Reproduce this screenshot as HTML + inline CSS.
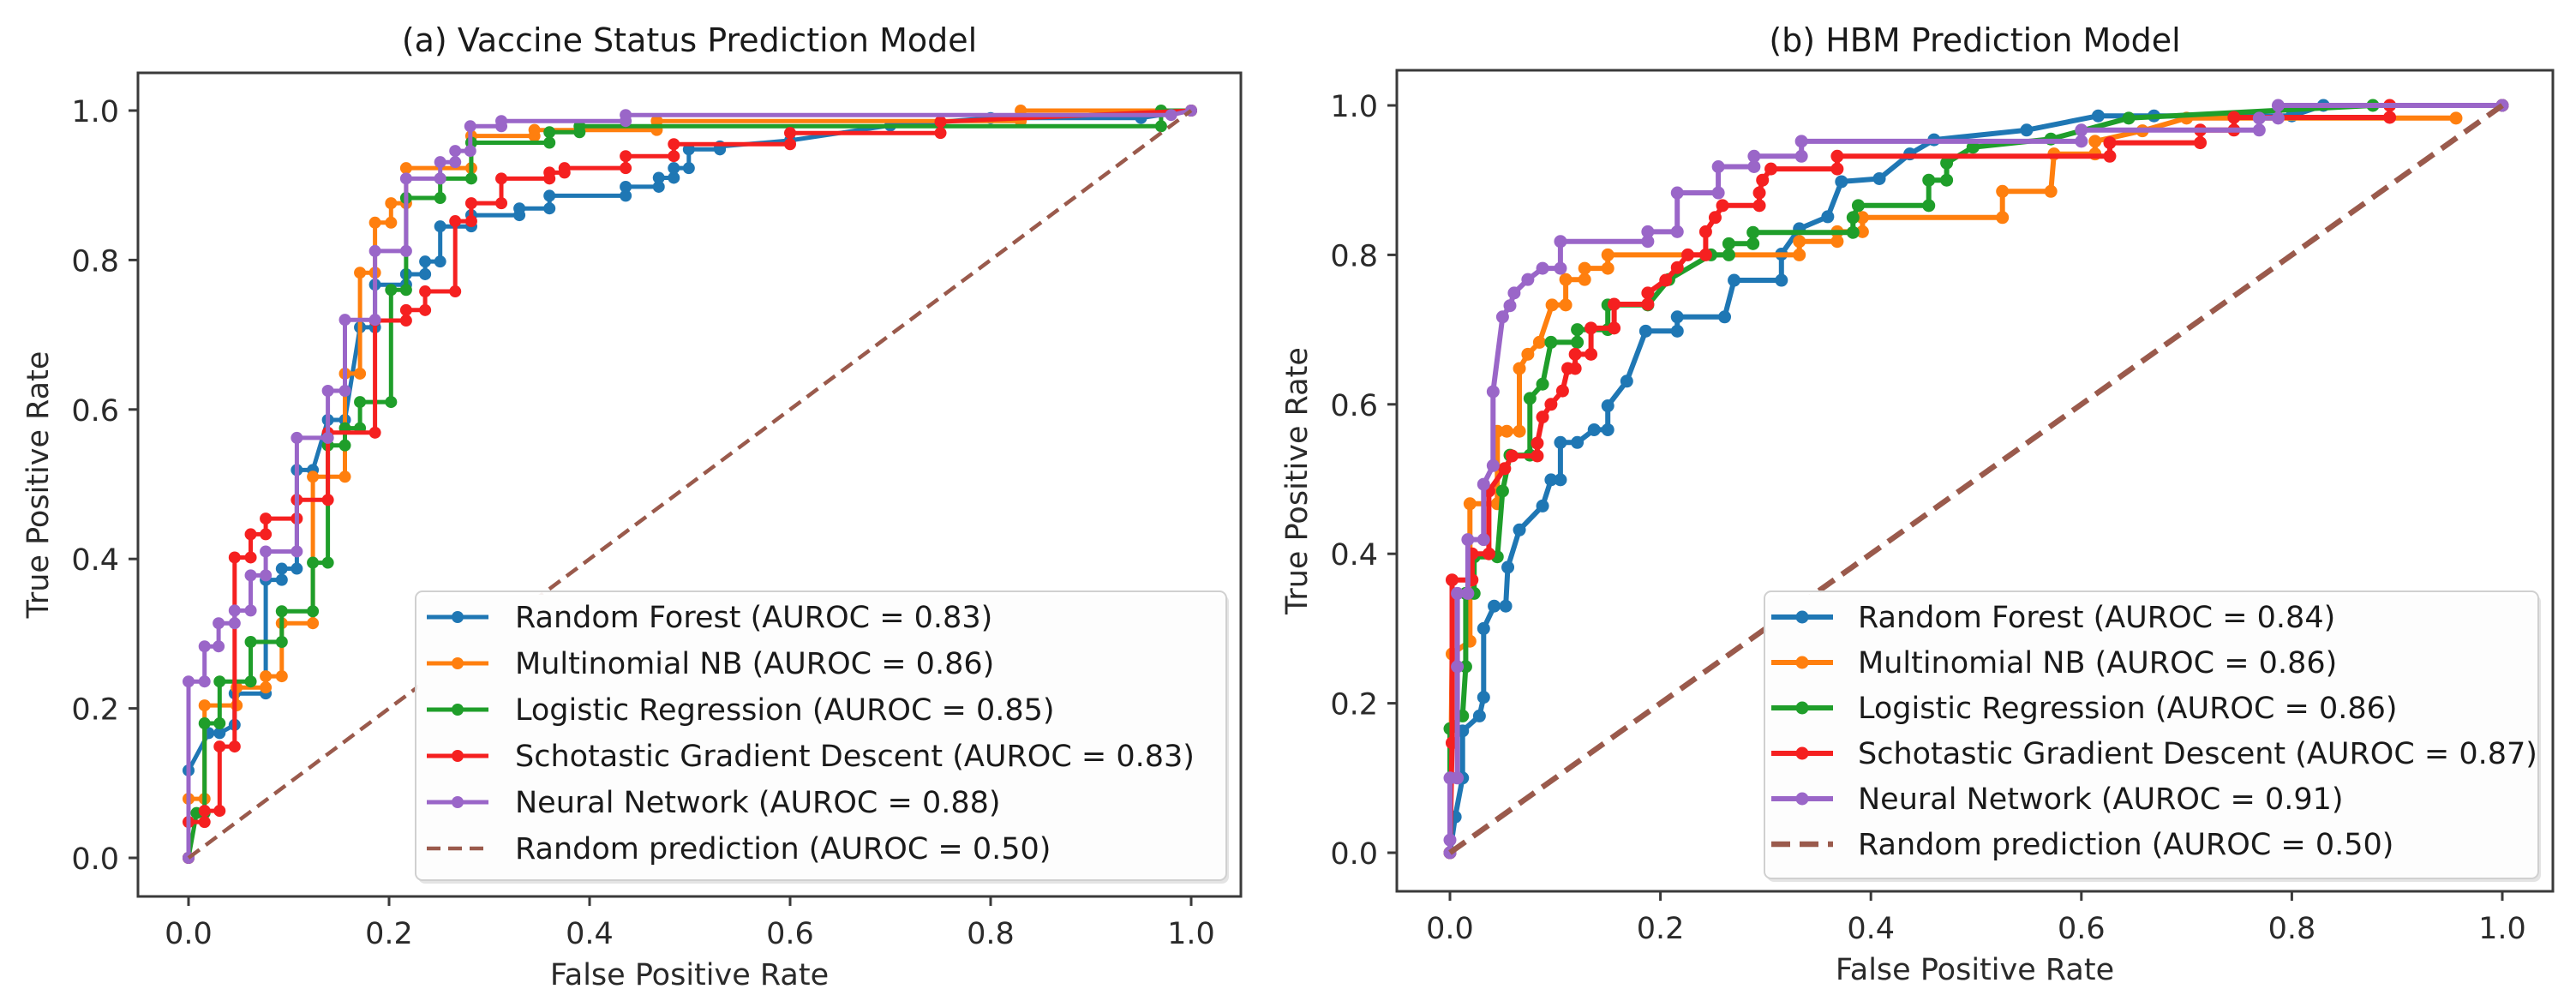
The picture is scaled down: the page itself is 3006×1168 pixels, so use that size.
<!DOCTYPE html>
<html><head><meta charset="utf-8">
<style>
html,body{margin:0;padding:0;background:#fff;}
svg{display:block;}
text{font-family:"DejaVu Sans","Liberation Sans",sans-serif;}
</style></head>
<body>
<svg id="fig" xmlns="http://www.w3.org/2000/svg" width="3006" height="1168" viewBox="0 0 3006 1168">
<rect x="0" y="0" width="3006" height="1168" fill="#fff"/>
</svg>
<script>
// ---------- Data: chart (a) Vaccine Status ----------
const legendLabelsA = ["Random Forest (AUROC = 0.83)","Multinomial NB (AUROC = 0.86)","Logistic Regression (AUROC = 0.85)","Schotastic Gradient Descent (AUROC = 0.83)","Neural Network (AUROC = 0.88)","Random prediction (AUROC = 0.50)"];
const legendLabelsB = ["Random Forest (AUROC = 0.84)","Multinomial NB (AUROC = 0.86)","Logistic Regression (AUROC = 0.86)","Schotastic Gradient Descent (AUROC = 0.87)","Neural Network (AUROC = 0.91)","Random prediction (AUROC = 0.50)"];
const tickValues = [0.0,0.2,0.4,0.6,0.8,1.0];
const tickLabels = ["0.0","0.2","0.4","0.6","0.8","1.0"];
const seriesColors = ["#1f77b4","#ff7f0e","#1f9e2a","#f52020","#9a66c8"];

const rfA_fpr = [0,0,0.02,0.031,0.046,0.046,0.077,0.077,0.093,0.093,0.108,0.108,0.124,0.139,0.156,0.171,0.186,0.186,0.217,0.217,0.236,0.236,0.251,0.251,0.282,0.282,0.33,0.33,0.36,0.36,0.436,0.436,0.469,0.469,0.484,0.484,0.499,0.499,0.53,0.53,0.6,0.7,0.8,0.95,1];
const rfA_tpr = [0,0.117,0.167,0.167,0.178,0.22,0.22,0.372,0.372,0.387,0.387,0.519,0.519,0.586,0.586,0.71,0.71,0.767,0.767,0.781,0.781,0.798,0.798,0.845,0.845,0.86,0.86,0.869,0.869,0.886,0.886,0.898,0.898,0.91,0.91,0.923,0.923,0.948,0.948,0.952,0.96,0.98,0.99,0.99,1];
const nbA_fpr = [0,0,0.016,0.016,0.048,0.048,0.077,0.077,0.093,0.093,0.124,0.124,0.156,0.156,0.171,0.171,0.186,0.186,0.202,0.202,0.217,0.217,0.282,0.282,0.345,0.345,0.467,0.467,0.83,0.83,1];
const nbA_tpr = [0,0.079,0.079,0.204,0.204,0.228,0.228,0.243,0.243,0.314,0.314,0.51,0.51,0.648,0.648,0.783,0.783,0.85,0.85,0.876,0.876,0.923,0.923,0.966,0.966,0.974,0.974,0.986,0.986,1,1];
const lrA_fpr = [0,0.008,0.016,0.016,0.031,0.031,0.062,0.062,0.093,0.093,0.124,0.124,0.139,0.139,0.156,0.156,0.171,0.171,0.202,0.202,0.217,0.217,0.251,0.251,0.282,0.282,0.36,0.36,0.39,0.39,0.97,0.97,1];
const lrA_tpr = [0,0.06,0.06,0.18,0.18,0.236,0.236,0.289,0.289,0.33,0.33,0.395,0.395,0.552,0.552,0.575,0.575,0.61,0.61,0.76,0.76,0.883,0.883,0.909,0.909,0.957,0.957,0.971,0.971,0.979,0.979,1,1];
const sgdA_fpr = [0,0,0.016,0.016,0.031,0.031,0.046,0.046,0.062,0.062,0.077,0.077,0.108,0.108,0.139,0.139,0.186,0.186,0.217,0.217,0.236,0.236,0.266,0.266,0.282,0.282,0.312,0.312,0.36,0.36,0.375,0.375,0.436,0.436,0.484,0.484,0.6,0.6,0.75,0.75,1];
const sgdA_tpr = [0,0.048,0.048,0.063,0.063,0.149,0.149,0.402,0.402,0.433,0.433,0.454,0.454,0.479,0.479,0.569,0.569,0.719,0.719,0.733,0.733,0.758,0.758,0.852,0.852,0.876,0.876,0.909,0.909,0.917,0.917,0.923,0.923,0.939,0.939,0.955,0.955,0.97,0.97,0.985,1];
const nnA_fpr = [0,0,0.016,0.016,0.03,0.03,0.046,0.046,0.062,0.062,0.077,0.077,0.108,0.108,0.139,0.139,0.156,0.156,0.186,0.186,0.217,0.217,0.251,0.251,0.266,0.266,0.281,0.281,0.312,0.312,0.436,0.436,0.98,1];
const nnA_tpr = [0,0.236,0.236,0.283,0.283,0.314,0.314,0.331,0.331,0.378,0.378,0.41,0.41,0.562,0.562,0.625,0.625,0.72,0.72,0.812,0.812,0.909,0.909,0.931,0.931,0.946,0.946,0.979,0.979,0.986,0.986,0.994,0.994,1];

// ---------- Data: chart (b) HBM ----------
const rfB_fpr = [0,0.005,0.012,0.012,0.028,0.032,0.032,0.042,0.053,0.055,0.066,0.088,0.096,0.105,0.105,0.121,0.137,0.15,0.15,0.168,0.186,0.216,0.216,0.261,0.27,0.315,0.315,0.332,0.359,0.372,0.408,0.437,0.46,0.548,0.616,0.669,0.8,0.83,1];
const rfB_tpr = [0,0.048,0.1,0.163,0.183,0.208,0.3,0.33,0.33,0.382,0.432,0.464,0.499,0.499,0.549,0.549,0.566,0.566,0.598,0.631,0.698,0.698,0.717,0.717,0.766,0.766,0.801,0.835,0.851,0.898,0.902,0.935,0.954,0.967,0.986,0.986,0.986,1,1];
const nbB_fpr = [0,0.002,0.019,0.019,0.045,0.045,0.054,0.066,0.066,0.074,0.085,0.097,0.11,0.11,0.128,0.128,0.15,0.15,0.332,0.332,0.368,0.368,0.392,0.392,0.525,0.525,0.571,0.574,0.613,0.613,0.658,0.7,0.956];
const nbB_tpr = [0,0.266,0.283,0.467,0.467,0.564,0.564,0.564,0.648,0.667,0.683,0.733,0.733,0.767,0.767,0.782,0.782,0.8,0.8,0.818,0.818,0.831,0.831,0.85,0.85,0.885,0.885,0.935,0.935,0.952,0.966,0.983,0.983];
const lrB_fpr = [0,0,0.012,0.015,0.015,0.023,0.023,0.045,0.05,0.057,0.076,0.076,0.088,0.096,0.121,0.121,0.15,0.15,0.188,0.208,0.248,0.265,0.265,0.288,0.288,0.383,0.383,0.388,0.455,0.455,0.472,0.472,0.497,0.571,0.645,0.877,1];
const lrB_tpr = [0,0.166,0.183,0.249,0.347,0.347,0.396,0.396,0.484,0.532,0.532,0.608,0.627,0.683,0.683,0.7,0.7,0.733,0.733,0.767,0.8,0.8,0.815,0.815,0.83,0.83,0.85,0.866,0.866,0.9,0.9,0.923,0.944,0.955,0.983,1,1];
const sgdB_fpr = [0,0.002,0.002,0.021,0.021,0.037,0.037,0.052,0.059,0.083,0.083,0.088,0.096,0.107,0.112,0.119,0.119,0.134,0.134,0.156,0.156,0.188,0.188,0.205,0.216,0.226,0.243,0.243,0.252,0.259,0.294,0.294,0.297,0.305,0.368,0.368,0.627,0.627,0.713,0.713,0.745,0.745,0.893,0.893,1];
const sgdB_tpr = [0,0.147,0.365,0.365,0.4,0.4,0.484,0.514,0.531,0.531,0.548,0.583,0.6,0.618,0.648,0.648,0.667,0.667,0.702,0.702,0.734,0.734,0.749,0.766,0.783,0.8,0.8,0.831,0.85,0.866,0.866,0.883,0.9,0.915,0.915,0.932,0.932,0.95,0.95,0.967,0.967,0.984,0.984,1,1];
const nnB_fpr = [0,0,0,0.007,0.007,0.007,0.017,0.017,0.032,0.032,0.041,0.041,0.05,0.057,0.061,0.074,0.088,0.105,0.105,0.188,0.188,0.216,0.216,0.255,0.255,0.289,0.289,0.334,0.334,0.6,0.6,0.769,0.769,0.787,0.787,1];
const nnB_tpr = [0,0.017,0.1,0.1,0.249,0.347,0.347,0.419,0.419,0.493,0.518,0.617,0.717,0.732,0.749,0.767,0.782,0.782,0.818,0.818,0.831,0.831,0.883,0.883,0.918,0.918,0.932,0.932,0.952,0.952,0.967,0.967,0.983,0.983,1,1];

const randFpr = [0,1];
const randTpr = [0,1];

const NS = "http://www.w3.org/2000/svg";
const fig = document.getElementById('fig');
function mk(tag, attrs, parent){
  const e = document.createElementNS(NS, tag);
  for (const k in attrs) e.setAttribute(k, attrs[k]);
  (parent||fig).appendChild(e);
  return e;
}

function drawChart(cfg){
  const g = mk('g', {});
  
  
  const sx = v => cfg.x0 + v*(cfg.x1 - cfg.x0);
  const sy = v => cfg.y0 - v*(cfg.y0 - cfg.y1);

  const t = mk('text', {x:(cfg.left+cfg.right)/2, y:cfg.titleY, 'font-size':38, 'text-anchor':'middle', fill:'#1a1a1a'}, g);
  t.textContent = cfg.title;
  
  

  const series = cfg.series;
  const sg = mk('g', {'clip-path':'url(#'+cfg.clip+')'}, g);
  series.forEach((s, i) => {
    const pts = s.fpr.map((f, j) => sx(f).toFixed(1)+','+sy(s.tpr[j]).toFixed(1)).join(' ');
    const pl = mk('polyline', {points:pts, fill:'none', stroke:seriesColors[i], 'stroke-width':cfg.lw, 'stroke-linejoin':'round'}, sg);
    
    
    s.fpr.forEach((f, j) => {
      const c = mk('circle', {cx:sx(f), cy:sy(s.tpr[j]), r:cfg.mr, fill:seriesColors[i]}, sg);
      
      
    });
  });
  const rp = randFpr.map((f, j) => sx(f)+','+sy(randTpr[j])).join(' ');
  const rl = mk('polyline', {points:rp, fill:'none', stroke:'#9a5a4c', 'stroke-width':cfg.dlw, 'stroke-dasharray':cfg.dash}, sg);
  
  

  const fr = mk('rect', {x:cfg.left, y:cfg.top, width:cfg.right-cfg.left, height:cfg.bottom-cfg.top, fill:'none', stroke:'#3a3a3a', 'stroke-width':3}, g);
  
  

  tickValues.forEach((v, i) => {
    const X = sx(v);
    mk('line', {x1:X, x2:X, y1:cfg.bottom, y2:cfg.bottom+11, stroke:'#3a3a3a', 'stroke-width':3}, g);
    const tx = mk('text', {x:X, y:cfg.bottom+55, 'font-size':35, 'text-anchor':'middle', fill:'#2a2a2a'}, g);
    tx.textContent = tickLabels[i];
    
    
    const Y = sy(v);
    mk('line', {x1:cfg.left-11, x2:cfg.left, y1:Y, y2:Y, stroke:'#3a3a3a', 'stroke-width':3}, g);
    const ty = mk('text', {x:cfg.left-22, y:Y+13, 'font-size':35, 'text-anchor':'end', fill:'#2a2a2a'}, g);
    ty.textContent = tickLabels[i];
    
    
  });

  const xl = mk('text', {x:(cfg.left+cfg.right)/2, y:cfg.bottom+103, 'font-size':35, 'text-anchor':'middle', fill:'#2a2a2a'}, g);
  xl.textContent = 'False Positive Rate';
  
  
  const yc = (cfg.top+cfg.bottom)/2;
  const yl = mk('text', {x:cfg.left-115, y:yc, 'font-size':35, 'text-anchor':'middle', fill:'#2a2a2a', transform:'rotate(-90 '+(cfg.left-115)+' '+yc+')', 'dominant-baseline':'middle'}, g);
  yl.textContent = 'True Positive Rate';
  
  

  const L = cfg.legend;
  const lg = mk('g', {}, g);
  
  
  mk('rect', {x:L.x+3, y:L.y+4, width:L.w, height:L.h, rx:8, fill:'#e4e4e4'}, lg);
  mk('rect', {x:L.x, y:L.y, width:L.w, height:L.h, rx:8, fill:'#fff', 'fill-opacity':0.92, stroke:'#d0d0d0', 'stroke-width':2}, lg);
  cfg.labels.forEach((lab, i) => {
    const ry = L.y + 30 + i*L.step;
    const ent = mk('g', {}, lg);
    
    
    if (i < 5) {
      mk('line', {x1:L.hx1, x2:L.hx2, y1:ry, y2:ry, stroke:seriesColors[i], 'stroke-width':cfg.lw}, ent);
      mk('circle', {cx:(L.hx1+L.hx2)/2, cy:ry, r:cfg.mr, fill:seriesColors[i]}, ent);
    } else {
      mk('line', {x1:L.hx1, x2:L.hx2, y1:ry, y2:ry, stroke:'#9a5a4c', 'stroke-width':cfg.dlw, 'stroke-dasharray':cfg.dash}, ent);
    }
    const tt = mk('text', {x:L.tx, y:ry+12, 'font-size':35, fill:'#1a1a1a'}, ent);
    tt.textContent = lab;
  });
}

const defs = mk('defs', {});
const c1 = mk('clipPath', {id:'clipA'}, defs); mk('rect', {x:161, y:85, width:1287, height:961}, c1);
const c2 = mk('clipPath', {id:'clipB'}, defs); mk('rect', {x:1630, y:82, width:1349, height:958}, c2);

drawChart({
  name:'chart-vaccine-status', title:'(a) Vaccine Status Prediction Model', clip:'clipA',
  left:161, right:1448, top:85, bottom:1046, titleY:60,
  x0:220, x1:1390, y0:1001, y1:129, lw:5, mr:7, dlw:4.5, dash:'16,9',
  labels:legendLabelsA,
  legend:{x:485, y:690, w:946, h:337, step:54, hx1:498, hx2:570, tx:601},
  series:[
    {key:'random-forest', fpr:rfA_fpr, tpr:rfA_tpr},
    {key:'multinomial-nb', fpr:nbA_fpr, tpr:nbA_tpr},
    {key:'logistic-regression', fpr:lrA_fpr, tpr:lrA_tpr},
    {key:'sgd', fpr:sgdA_fpr, tpr:sgdA_tpr},
    {key:'neural-network', fpr:nnA_fpr, tpr:nnA_tpr}
  ]
});
drawChart({
  name:'chart-hbm', title:'(b) HBM Prediction Model', clip:'clipB',
  left:1630, right:2979, top:82, bottom:1040, titleY:60,
  x0:1692, x1:2920, y0:995, y1:123, lw:6, mr:7.5, dlw:6.5, dash:'22,11',
  labels:legendLabelsB,
  legend:{x:2059, y:690, w:903, h:335, step:53, hx1:2067, hx2:2139, tx:2168},
  series:[
    {key:'random-forest', fpr:rfB_fpr, tpr:rfB_tpr},
    {key:'multinomial-nb', fpr:nbB_fpr, tpr:nbB_tpr},
    {key:'logistic-regression', fpr:lrB_fpr, tpr:lrB_tpr},
    {key:'sgd', fpr:sgdB_fpr, tpr:sgdB_tpr},
    {key:'neural-network', fpr:nnB_fpr, tpr:nnB_tpr}
  ]
});
</script>
</body></html>
